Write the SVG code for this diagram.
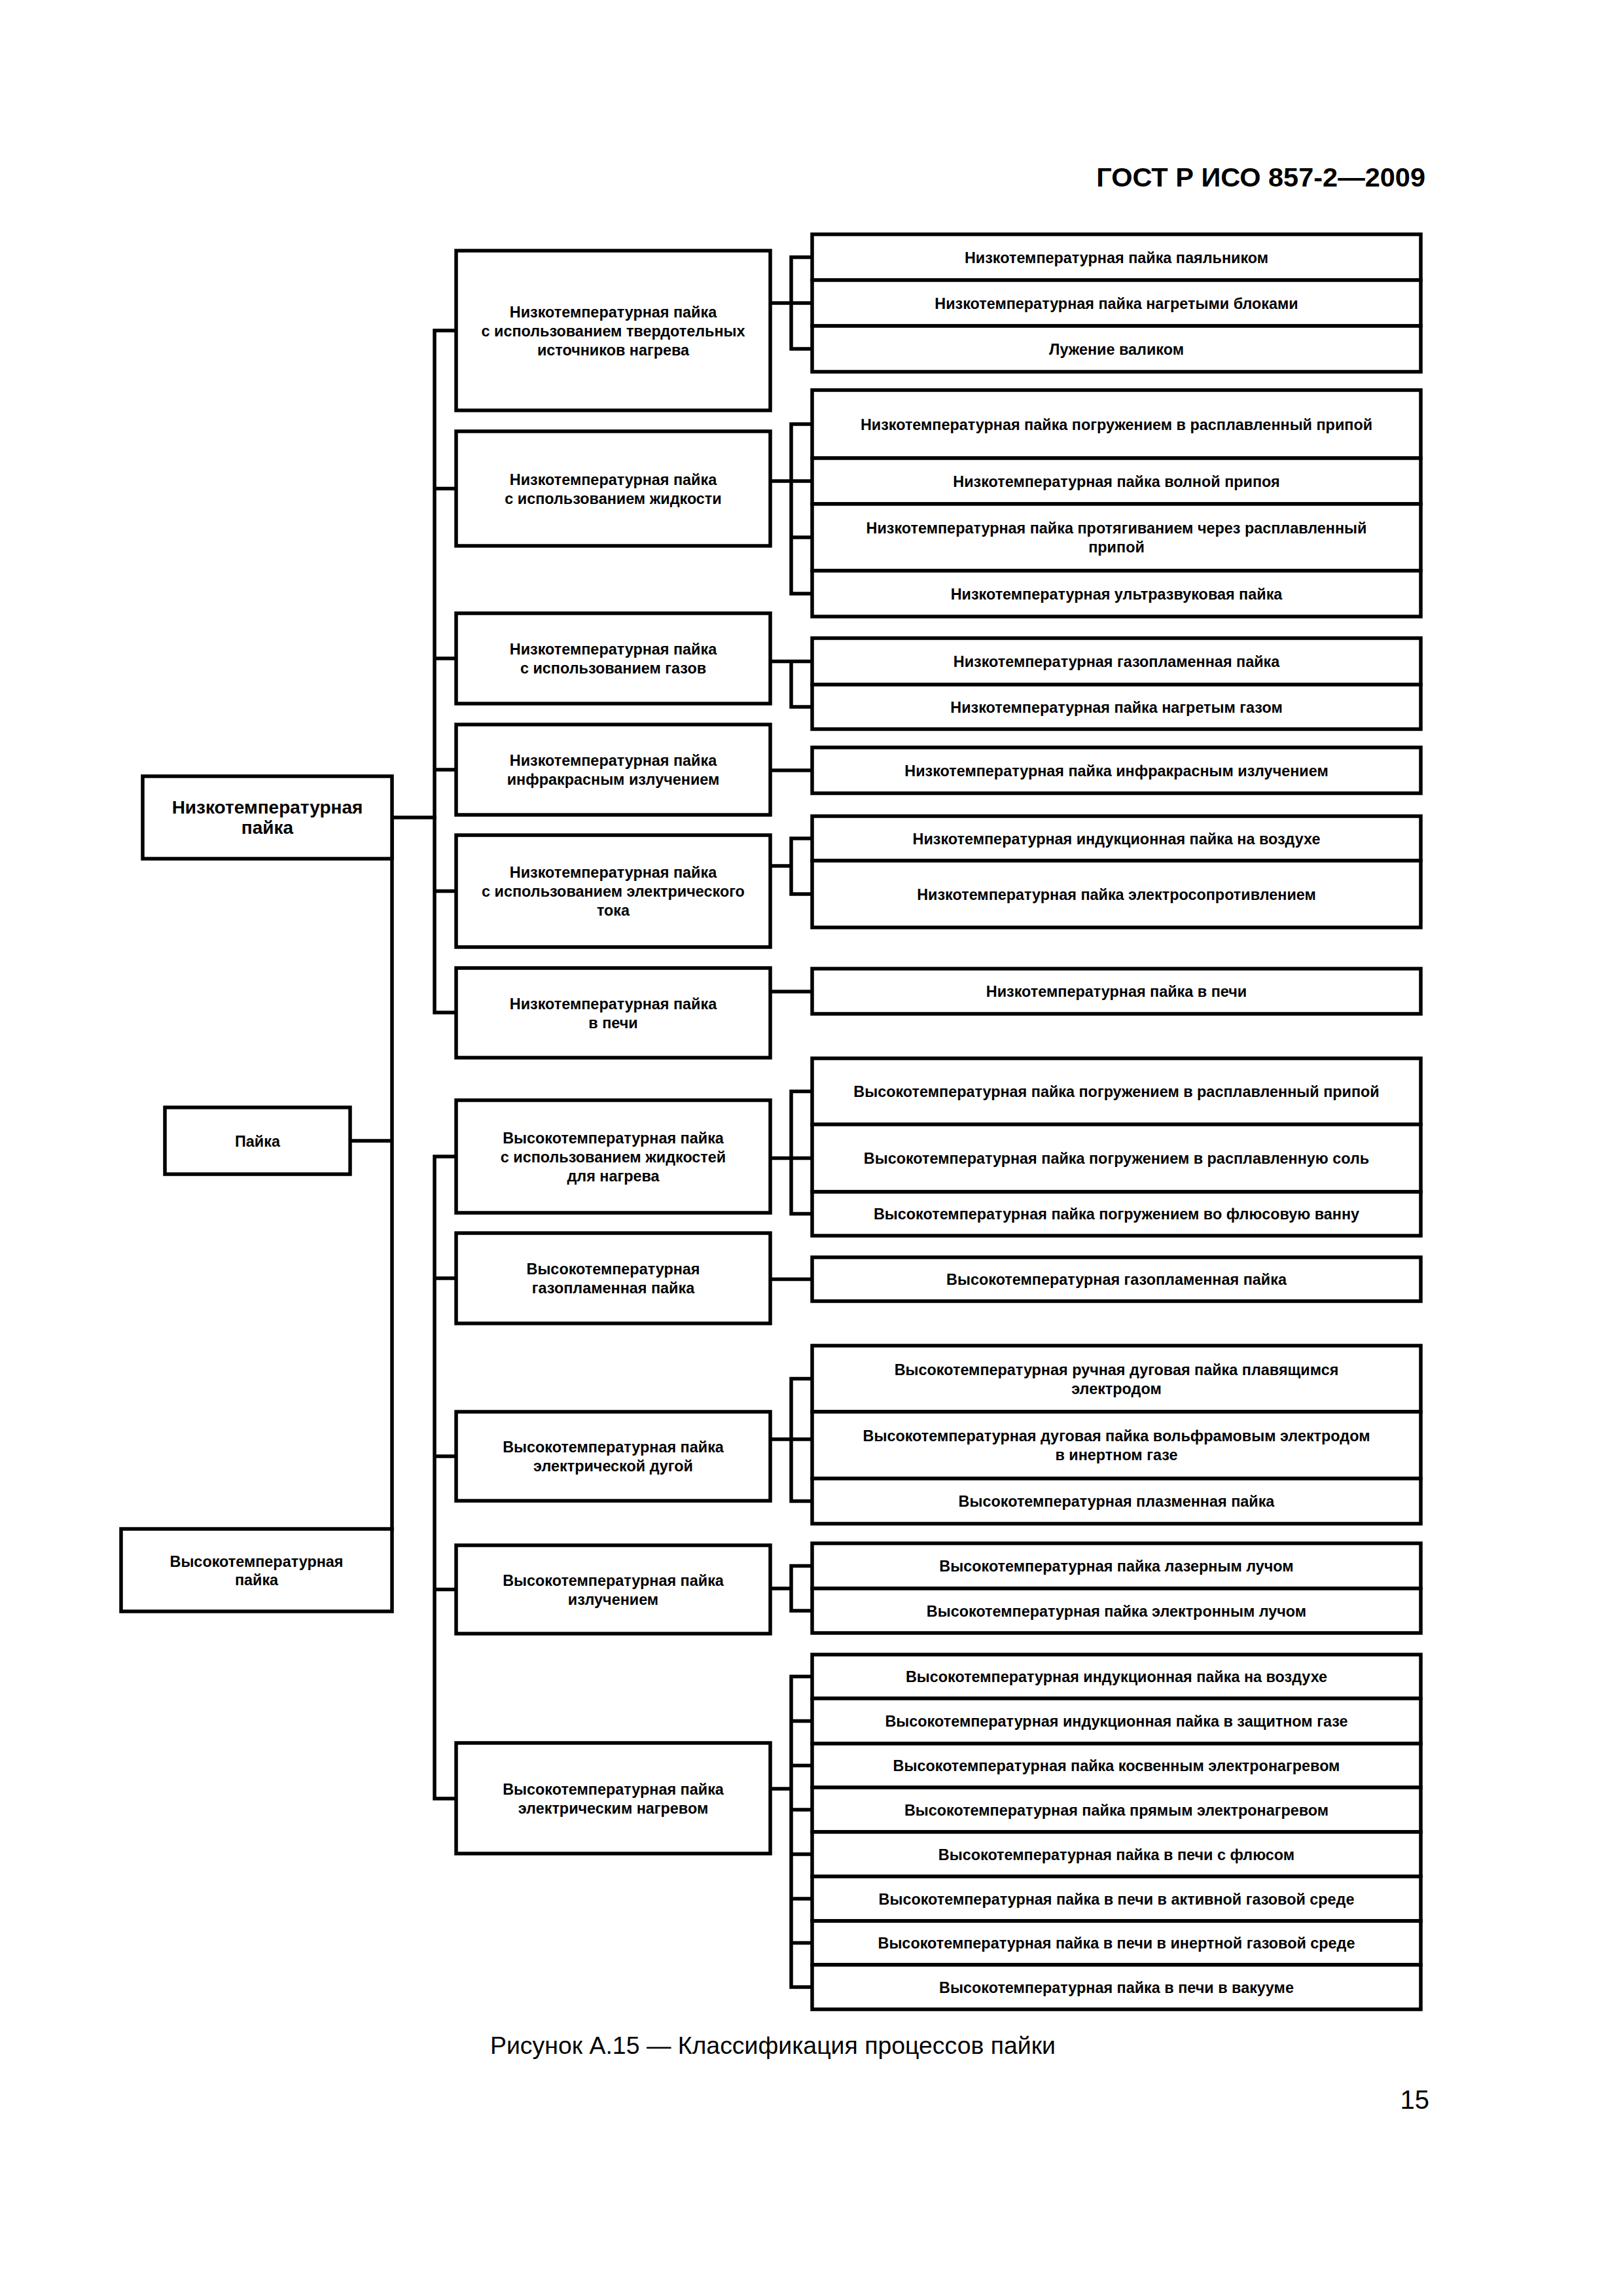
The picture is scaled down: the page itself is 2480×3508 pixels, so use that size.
<svg xmlns="http://www.w3.org/2000/svg" width="2480" height="3508" viewBox="0 0 2480 3508">
<style>
.b{fill:#fff;stroke:#000;stroke-width:5.5}
.c{stroke:#000;stroke-width:5.5;fill:none;stroke-linecap:square}
text{font-family:"Liberation Sans",Arial,sans-serif;fill:#000}
.t{font-size:23.4px;font-weight:bold;text-anchor:middle}
.r{font-size:28px;font-weight:bold;text-anchor:middle}
</style>
<rect width="2480" height="3508" fill="#fff"/>
<text x="2178" y="285" font-size="41.5" font-weight="bold" text-anchor="end">ГОСТ Р ИСО 857-2—2009</text>

<g id="connectors">
<path class="c" d="M599 1249H664M599 1249V2336M535 1743H599"/>
<path class="c" d="M664 505V1547M664 505H697M664 746.5H697M664 1006H697M664 1176H697M664 1361.5H697M664 1547H697"/>
<path class="c" d="M664 1767V2748M664 1767H697M664 1953H697M664 2225H697M664 2428.5H697M664 2748H697"/>
<path class="c" d="M1177 463H1241M1209 393V533M1209 393H1241M1209 533H1241"/>
<path class="c" d="M1177 735H1241M1209 648V907M1209 648H1241M1209 821H1241M1209 907H1241"/>
<path class="c" d="M1177 1010.5H1241M1209 1010.5V1080M1209 1080H1241"/>
<path class="c" d="M1177 1177H1241"/>
<path class="c" d="M1177 1323H1209M1209 1281V1366M1209 1281H1241M1209 1366H1241"/>
<path class="c" d="M1177 1515H1241"/>
<path class="c" d="M1177 1769.5H1241M1209 1667.5V1854.5M1209 1667.5H1241M1209 1854.5H1241"/>
<path class="c" d="M1177 1954.5H1241"/>
<path class="c" d="M1177 2199H1241M1209 2106.5V2293.5M1209 2106.5H1241M1209 2293.5H1241"/>
<path class="c" d="M1177 2427H1209M1209 2392.5V2461M1209 2392.5H1241M1209 2461H1241"/>
<path class="c" d="M1177 2733H1209M1209 2561.5V3036M1209 2561.5H1241M1209 2629.5H1241M1209 2697.5H1241M1209 2765H1241M1209 2833H1241M1209 2901H1241M1209 2968.5H1241M1209 3036H1241"/>
</g>

<g id="root-low"><rect class="b" x="218" y="1186" width="381" height="126"/><text class="r" x="408.5" y="1243.3">Низкотемпературная</text><text class="r" x="408.5" y="1274.3">пайка</text></g>
<g id="root"><rect class="b" x="252" y="1692" width="283" height="102"/><text class="t" x="393.5" y="1751.5">Пайка</text></g>
<g id="root-high"><rect class="b" x="185" y="2336" width="414" height="126"/><text class="t" x="392" y="2393.5">Высокотемпературная</text><text class="t" x="392" y="2421.5">пайка</text></g>

<g id="m1"><rect class="b" x="697" y="383" width="480" height="244"/><text class="t" x="937" y="484.5">Низкотемпературная пайка</text><text class="t" x="937" y="513.5">с использованием твердотельных</text><text class="t" x="937" y="542.5">источников нагрева</text></g>
<g id="m2"><rect class="b" x="697" y="659" width="480" height="175"/><text class="t" x="937" y="740.5">Низкотемпературная пайка</text><text class="t" x="937" y="769.5">с использованием жидкости</text></g>
<g id="m3"><rect class="b" x="697" y="937" width="480" height="138"/><text class="t" x="937" y="1000">Низкотемпературная пайка</text><text class="t" x="937" y="1029">с использованием газов</text></g>
<g id="m4"><rect class="b" x="697" y="1107" width="480" height="138"/><text class="t" x="937" y="1170">Низкотемпературная пайка</text><text class="t" x="937" y="1199">инфракрасным излучением</text></g>
<g id="m5"><rect class="b" x="697" y="1276" width="480" height="171"/><text class="t" x="937" y="1341">Низкотемпературная пайка</text><text class="t" x="937" y="1370">с использованием электрического</text><text class="t" x="937" y="1399">тока</text></g>
<g id="m6"><rect class="b" x="697" y="1479" width="480" height="137"/><text class="t" x="937" y="1541.5">Низкотемпературная пайка</text><text class="t" x="937" y="1570.5">в печи</text></g>
<g id="h1"><rect class="b" x="697" y="1681" width="480" height="172"/><text class="t" x="937" y="1746.5">Высокотемпературная пайка</text><text class="t" x="937" y="1775.5">с использованием жидкостей</text><text class="t" x="937" y="1804.5">для нагрева</text></g>
<g id="h2"><rect class="b" x="697" y="1884" width="480" height="138"/><text class="t" x="937" y="1947">Высокотемпературная</text><text class="t" x="937" y="1976">газопламенная пайка</text></g>
<g id="h3"><rect class="b" x="697" y="2157" width="480" height="136"/><text class="t" x="937" y="2219">Высокотемпературная пайка</text><text class="t" x="937" y="2248">электрической дугой</text></g>
<g id="h4"><rect class="b" x="697" y="2361" width="480" height="135"/><text class="t" x="937" y="2422.5">Высокотемпературная пайка</text><text class="t" x="937" y="2451.5">излучением</text></g>
<g id="h5"><rect class="b" x="697" y="2663" width="480" height="169"/><text class="t" x="937" y="2741.5">Высокотемпературная пайка</text><text class="t" x="937" y="2770.5">электрическим нагревом</text></g>

<g id="l1a"><rect class="b" x="1241" y="358" width="930" height="70"/><text class="t" x="1706" y="401.5">Низкотемпературная пайка паяльником</text></g>
<g id="l1b"><rect class="b" x="1241" y="428" width="930" height="70"/><text class="t" x="1706" y="471.5">Низкотемпературная пайка нагретыми блоками</text></g>
<g id="l1c"><rect class="b" x="1241" y="498" width="930" height="70"/><text class="t" x="1706" y="541.5">Лужение валиком</text></g>
<g id="l2a"><rect class="b" x="1241" y="596" width="930" height="104"/><text class="t" x="1706" y="656.5">Низкотемпературная пайка погружением в расплавленный припой</text></g>
<g id="l2b"><rect class="b" x="1241" y="700" width="930" height="70"/><text class="t" x="1706" y="743.5">Низкотемпературная пайка волной припоя</text></g>
<g id="l2c"><rect class="b" x="1241" y="770" width="930" height="102"/><text class="t" x="1706" y="814.5">Низкотемпературная пайка протягиванием через расплавленный</text><text class="t" x="1706" y="844">припой</text></g>
<g id="l2d"><rect class="b" x="1241" y="872" width="930" height="70"/><text class="t" x="1706" y="915.5">Низкотемпературная ультразвуковая пайка</text></g>
<g id="l3a"><rect class="b" x="1241" y="975" width="930" height="71"/><text class="t" x="1706" y="1019">Низкотемпературная газопламенная пайка</text></g>
<g id="l3b"><rect class="b" x="1241" y="1046" width="930" height="68"/><text class="t" x="1706" y="1088.5">Низкотемпературная пайка нагретым газом</text></g>
<g id="l4"><rect class="b" x="1241" y="1142" width="930" height="70"/><text class="t" x="1706" y="1185.5">Низкотемпературная пайка инфракрасным излучением</text></g>
<g id="l5a"><rect class="b" x="1241" y="1247" width="930" height="68"/><text class="t" x="1706" y="1289.5">Низкотемпературная индукционная пайка на воздухе</text></g>
<g id="l5b"><rect class="b" x="1241" y="1315" width="930" height="102"/><text class="t" x="1706" y="1374.5">Низкотемпературная пайка электросопротивлением</text></g>
<g id="l6"><rect class="b" x="1241" y="1480" width="930" height="69"/><text class="t" x="1706" y="1523">Низкотемпературная пайка в печи</text></g>

<g id="r1a"><rect class="b" x="1241" y="1617" width="930" height="101"/><text class="t" x="1706" y="1676">Высокотемпературная пайка погружением в расплавленный припой</text></g>
<g id="r1b"><rect class="b" x="1241" y="1718" width="930" height="103"/><text class="t" x="1706" y="1778">Высокотемпературная пайка погружением в расплавленную соль</text></g>
<g id="r1c"><rect class="b" x="1241" y="1821" width="930" height="67"/><text class="t" x="1706" y="1863">Высокотемпературная пайка погружением во флюсовую ванну</text></g>
<g id="r2"><rect class="b" x="1241" y="1921" width="930" height="67"/><text class="t" x="1706" y="1963">Высокотемпературная газопламенная пайка</text></g>
<g id="r3a"><rect class="b" x="1241" y="2056" width="930" height="101"/><text class="t" x="1706" y="2100.5">Высокотемпературная ручная дуговая пайка плавящимся</text><text class="t" x="1706" y="2130">электродом</text></g>
<g id="r3b"><rect class="b" x="1241" y="2157" width="930" height="102"/><text class="t" x="1706" y="2201.5">Высокотемпературная дуговая пайка вольфрамовым электродом</text><text class="t" x="1706" y="2231">в инертном газе</text></g>
<g id="r3c"><rect class="b" x="1241" y="2259" width="930" height="69"/><text class="t" x="1706" y="2302">Высокотемпературная плазменная пайка</text></g>
<g id="r4a"><rect class="b" x="1241" y="2358" width="930" height="69"/><text class="t" x="1706" y="2401">Высокотемпературная пайка лазерным лучом</text></g>
<g id="r4b"><rect class="b" x="1241" y="2427" width="930" height="68"/><text class="t" x="1706" y="2469.5">Высокотемпературная пайка электронным лучом</text></g>
<g id="r5a"><rect class="b" x="1241" y="2528" width="930" height="67"/><text class="t" x="1706" y="2570">Высокотемпературная индукционная пайка на воздухе</text></g>
<g id="r5b"><rect class="b" x="1241" y="2595" width="930" height="69"/><text class="t" x="1706" y="2638">Высокотемпературная индукционная пайка в защитном газе</text></g>
<g id="r5c"><rect class="b" x="1241" y="2664" width="930" height="67"/><text class="t" x="1706" y="2706">Высокотемпературная пайка косвенным электронагревом</text></g>
<g id="r5d"><rect class="b" x="1241" y="2731" width="930" height="68"/><text class="t" x="1706" y="2773.5">Высокотемпературная пайка прямым электронагревом</text></g>
<g id="r5e"><rect class="b" x="1241" y="2799" width="930" height="68"/><text class="t" x="1706" y="2841.5">Высокотемпературная пайка в печи с флюсом</text></g>
<g id="r5f"><rect class="b" x="1241" y="2867" width="930" height="68"/><text class="t" x="1706" y="2909.5">Высокотемпературная пайка в печи в активной газовой среде</text></g>
<g id="r5g"><rect class="b" x="1241" y="2935" width="930" height="67"/><text class="t" x="1706" y="2977">Высокотемпературная пайка в печи в инертной газовой среде</text></g>
<g id="r5h"><rect class="b" x="1241" y="3002" width="930" height="68"/><text class="t" x="1706" y="3044.5">Высокотемпературная пайка в печи в вакууме</text></g>

<text x="749" y="3138" font-size="37.5" textLength="864" lengthAdjust="spacingAndGlyphs">Рисунок А.15 — Классификация процессов пайки</text>
<text x="2184" y="3222" font-size="40" text-anchor="end">15</text>
</svg>
